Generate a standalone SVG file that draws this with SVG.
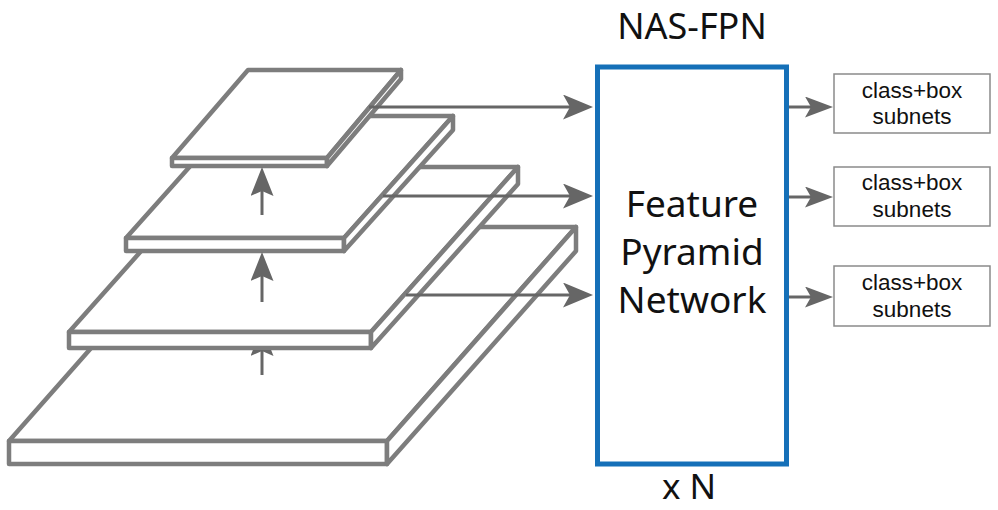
<svg xmlns="http://www.w3.org/2000/svg" width="998" height="510" viewBox="0 0 998 510">
<style>
.pl{fill:#fff;stroke:#7d7d7d;stroke-width:4.5;stroke-linejoin:round}
.ar{stroke:#666;stroke-width:3;fill:none}
.sb{fill:#fff;stroke:#8a8a8a;stroke-width:1.5}
.t{font-family:"Noto Sans","Open Sans",sans-serif;fill:#111;text-anchor:middle}
.s{font-family:"Liberation Sans",Arial,sans-serif;fill:#111;text-anchor:middle;font-size:22.5px}
</style>
<defs>
<marker id="ahL" markerUnits="userSpaceOnUse" viewBox="0 0 30 25" refX="15" refY="12.5" markerWidth="30" markerHeight="25" orient="auto"><path d="M0,0 L30,12.5 L0,25 L7,12.5 Z" fill="#666"/></marker>
<marker id="ahS" markerUnits="userSpaceOnUse" viewBox="0 0 28 21" refX="14" refY="10.5" markerWidth="28" markerHeight="21" orient="auto"><path d="M0,0 L28,10.5 L0,21 L6,10.5 Z" fill="#666"/></marker>
<marker id="ahU" markerUnits="userSpaceOnUse" viewBox="0 0 29 23" refX="14" refY="11.5" markerWidth="29" markerHeight="23" orient="auto"><path d="M0,0 L29,11.5 L0,23 L5,11.5 Z" fill="#666"/></marker>
<clipPath id="below3"><rect x="230" y="350" width="70" height="40"/></clipPath>
</defs>

<g id="level4">
<polygon class="pl" points="198,227 576,227 387,441 9,441"/>
<rect class="pl" x="9" y="441" width="378" height="23"/>
<polygon class="pl" points="387,441 576,227 576,251 387,464"/>
</g>
<g id="level3">
<polygon class="pl" points="216,167 518,167 371,332 69,332"/>
<rect class="pl" x="69" y="332" width="302" height="16"/>
<polygon class="pl" points="371,332 518,167 518,184 371,348"/>
</g>
<g id="level2">
<polygon class="pl" points="235,116 453,116 344,238 126,238"/>
<rect class="pl" x="126" y="238" width="218" height="13"/>
<polygon class="pl" points="344,238 453,116 453,130 344,251"/>
</g>
<g id="level1">
<polygon class="pl" points="248,70 401,70 327,158 172,158"/>
<rect class="pl" x="172" y="158" width="155" height="8"/>
<polygon class="pl" points="327,158 401,70 401,79 327,166"/>
</g>

<g id="fpn">
<rect x="597.5" y="67" width="189" height="397" fill="#fff" stroke="#1570b8" stroke-width="5"/>
<text class="t" x="692" y="217" font-size="37">Feature</text>
<text class="t" x="692" y="265" font-size="37">Pyramid</text>
<text class="t" x="692" y="313" font-size="37">Network</text>
</g>
<text class="t" x="692" y="39" font-size="36">NAS-FPN</text>
<text class="t" x="689" y="499" font-size="35">x N</text>

<g id="subnet1">
<rect class="sb" x="834" y="74" width="156" height="59"/>
<text class="s" x="912" y="98">class+box</text>
<text class="s" x="912" y="124">subnets</text>
</g>
<g id="subnet2">
<rect class="sb" x="834" y="167" width="156" height="59"/>
<text class="s" x="912" y="190">class+box</text>
<text class="s" x="912" y="217">subnets</text>
</g>
<g id="subnet3">
<rect class="sb" x="834" y="266" width="156" height="60"/>
<text class="s" x="912" y="290">class+box</text>
<text class="s" x="912" y="317">subnets</text>
</g>

<g id="connectors">
<line class="ar" x1="262" y1="215" x2="262" y2="182" marker-end="url(#ahU)"/>
<line class="ar" x1="262" y1="302" x2="262" y2="267" marker-end="url(#ahU)"/>
<g clip-path="url(#below3)"><line class="ar" x1="262" y1="375" x2="262" y2="342" marker-end="url(#ahU)"/></g>
<line class="ar" x1="369" y1="107" x2="578" y2="107" marker-end="url(#ahL)"/>
<line class="ar" x1="383" y1="196" x2="578" y2="196" marker-end="url(#ahL)"/>
<line class="ar" x1="406" y1="295" x2="578" y2="295" marker-end="url(#ahL)"/>
<line class="ar" x1="789" y1="107" x2="819" y2="107" marker-end="url(#ahS)"/>
<line class="ar" x1="789" y1="197" x2="819" y2="197" marker-end="url(#ahS)"/>
<line class="ar" x1="789" y1="297" x2="819" y2="297" marker-end="url(#ahS)"/>
</g>
</svg>
